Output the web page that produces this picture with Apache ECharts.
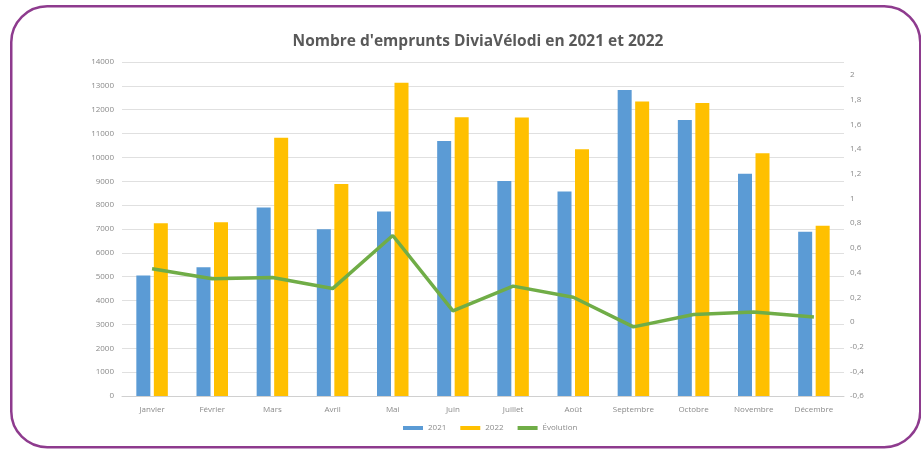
<!DOCTYPE html>
<html><head><meta charset="utf-8">
<script src="https://cdn.jsdelivr.net/npm/echarts@6/dist/echarts.min.js"></script>
<style>html,body{margin:0;padding:0;background:#fff}#c{width:921px;height:451px}</style>
</head><body><div id="c"></div>
<script>
const months = ['Janvier','Février','Mars','Avril','Mai','Juin','Juillet','Août','Septembre','Octobre','Novembre','Décembre'];
const v2021 = [5050, 5400, 7900, 6990, 7730, 10690, 9010, 8570, 12830, 11570, 9320, 6880];
const v2022 = [7240, 7280, 10830, 8890, 13130, 11680, 11670, 10340, 12340, 12280, 10170, 7140];
const evolution = [0.43, 0.35, 0.36, 0.27, 0.70, 0.09, 0.29, 0.20, -0.04, 0.06, 0.08, 0.04];
const leftAxis = {min: 0, max: 14000, interval: 1000};
const rightAxis = {min: -0.6, max: 2, interval: 0.2};

const chart = echarts.init(document.getElementById('c'), null, {renderer: 'canvas'});
const lbl = {color: '#8a8a8a', fontSize: 8, fontFamily: 'Open Sans'};
chart.setOption({
  backgroundColor: '#fff',
  animation: false,
  graphic: [{
    type: 'rect', left: 10, top: 5, z: -10,
    shape: {width: 909, height: 441, r: 36},
    style: {fill: '#fff', stroke: '#8E3B8E', lineWidth: 2.5}
  }],
  title: {
    text: "Nombre d'emprunts DiviaVélodi en 2021 et 2022",
    left: 473, top: 29, textAlign: 'center',
    textStyle: {fontFamily: 'Open Sans', fontWeight: 'bold', fontSize: 15.5, color: '#595959'}
  },
  legend: {
    bottom: 14, left: 398, itemGap: 14,
    textStyle: {color: '#8a8a8a', fontSize: 8, fontFamily: 'Open Sans'},
    data: [
      {name: '2021', icon: 'rect', itemStyle: {color: '#5B9BD5'}},
      {name: '2022', icon: 'rect', itemStyle: {color: '#FFC000'}},
      {name: 'Évolution', icon: 'rect', itemStyle: {color: '#70AD47'}}
    ],
    itemWidth: 20, itemHeight: 4
  },
  grid: [
    {left: 122, right: 77, top: 62, bottom: 55},
    {left: 122, right: 77, top: 75, bottom: 55}
  ],
  xAxis: [
    {type: 'category', data: months, gridIndex: 0, boundaryGap: true,
     axisLine: {lineStyle: {color: '#d0d0d0'}}, axisTick: {show: false},
     axisLabel: Object.assign({margin: 10}, lbl)},
    {type: 'category', data: months, gridIndex: 1, boundaryGap: true, show: false}
  ],
  yAxis: [
    {type: 'value', gridIndex: 0, min: leftAxis.min, max: leftAxis.max, interval: leftAxis.interval,
     axisLine: {show: false}, axisTick: {show: false},
     splitLine: {lineStyle: {color: '#e0e0e0'}},
     axisLabel: Object.assign({margin: 8, formatter: v => String(v)}, lbl)},
    {type: 'value', gridIndex: 1, position: 'right', min: rightAxis.min, max: rightAxis.max, interval: rightAxis.interval,
     axisLine: {show: false}, axisTick: {show: false}, splitLine: {show: false},
     axisLabel: Object.assign({margin: 6, formatter: v => String(Math.round(v * 10) / 10).replace('.', ',')}, lbl)}
  ],
  series: [
    {name: '2021', type: 'bar', xAxisIndex: 0, yAxisIndex: 0, data: v2021, barWidth: 14, barGap: '25%',
     itemStyle: {color: '#5B9BD5'}},
    {name: '2022', type: 'bar', xAxisIndex: 0, yAxisIndex: 0, data: v2022, barWidth: 14, barGap: '25%',
     itemStyle: {color: '#FFC000'}},
    {name: 'Évolution', type: 'line', xAxisIndex: 1, yAxisIndex: 1, data: evolution,
     showSymbol: false, symbol: 'none', lineStyle: {color: '#70AD47', width: 3.5}, itemStyle: {color: '#70AD47'}}
  ]
});
</script></body></html>
